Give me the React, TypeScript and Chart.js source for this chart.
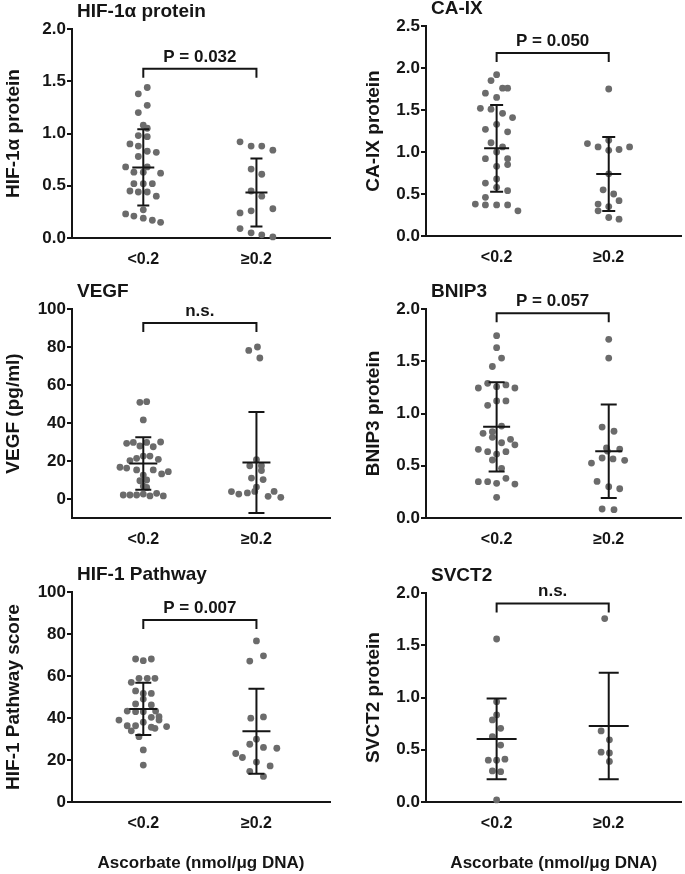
import React, { useEffect, useRef } from "react";
import { Chart, registerables } from "chart.js";
Chart.register(...registerables);

const FONT = 'Arial, "Liberation Sans", sans-serif';
const CATEGORIES = ["<0.2", "\u22650.2"];
const X_AXIS_TITLE = "Ascorbate (nmol/\u03bcg DNA)";

// ---------- HIF-1α protein ----------
const HIF1A_LOW_VALUES = [1.44, 1.38, 1.27, 1.2, 1.08, 1.05, 0.98, 0.97, 0.9, 0.88, 0.83, 0.82, 0.78, 0.68, 0.68, 0.63, 0.63, 0.62, 0.52, 0.52, 0.52, 0.45, 0.44, 0.44, 0.4, 0.27, 0.23, 0.21, 0.19, 0.17, 0.15];
const HIF1A_LOW_JITTER = [0.035, -0.044, 0.035, -0.044, 0, 0.035, -0.044, 0.035, -0.118, -0.044, 0.035, 0.115, -0.044, -0.156, 0.035, -0.083, 0, 0.153, -0.083, 0, 0.08, -0.118, -0.044, 0.035, 0.115, 0, -0.156, -0.083, 0, 0.08, 0.153];
const HIF1A_HIGH_VALUES = [0.92, 0.88, 0.88, 0.84, 0.66, 0.61, 0.45, 0.4, 0.24, 0.26, 0.28, 0.09, 0.05, 0.03, 0.01];
const HIF1A_HIGH_JITTER = [-0.145, -0.047, 0.047, 0.145, -0.047, 0.047, -0.047, 0.047, -0.145, -0.047, 0.145, -0.145, -0.047, 0.047, 0.145];
const HIF1A_MEAN = [0.675, 0.436];
const HIF1A_SD = [0.365, 0.325];

// ---------- CA-IX ----------
const CAIX_LOW_VALUES = [1.92, 1.85, 1.76, 1.76, 1.7, 1.65, 1.52, 1.51, 1.46, 1.41, 1.33, 1.27, 1.24, 1.11, 1.06, 1.0, 0.92, 0.92, 0.83, 0.85, 0.68, 0.63, 0.58, 0.54, 0.46, 0.38, 0.37, 0.37, 0.37, 0.3];
const CAIX_LOW_JITTER = [0, -0.05, 0.053, 0.098, -0.1, 0, -0.145, -0.05, 0.053, 0.142, 0, -0.1, 0.098, -0.05, 0.053, 0, -0.1, 0.098, 0, 0.098, 0, -0.1, 0, 0.098, -0.1, -0.19, -0.1, 0, 0.098, 0.19];
const CAIX_HIGH_VALUES = [1.75, 1.1, 1.06, 1.14, 1.02, 1.03, 1.06, 0.74, 0.55, 0.5, 0.38, 0.35, 0.42, 0.3, 0.22, 0.2];
const CAIX_HIGH_JITTER = [0, -0.19, -0.095, 0, 0, 0.092, 0.186, 0, -0.05, 0.044, -0.095, 0, 0.092, -0.095, 0, 0.092];
const CAIX_MEAN = [1.044, 0.738];
const CAIX_SD = [0.516, 0.441];

// ---------- VEGF ----------
const VEGF_LOW_VALUES = [50.9, 51.2, 41.6, 29.3, 29.8, 29.8, 30, 27.9, 27.5, 21.4, 22.6, 22.6, 20.9, 20.2, 16.7, 16.3, 15.3, 15.3, 13.2, 14.4, 12.6, 9.6, 10, 6.8, 6.1, 2.1, 2.1, 2.1, 2.6, 1.6, 3, 1.6];
const VEGF_LOW_JITTER = [-0.03, 0.03, 0, -0.147, -0.088, 0.03, 0.153, -0.03, 0.088, -0.059, 0, 0.059, 0.133, -0.118, -0.206, -0.147, -0.059, 0.088, 0.162, 0.221, 0, -0.03, 0.03, 0, 0.03, -0.177, -0.118, -0.059, 0, 0.059, 0.118, 0.177];
const VEGF_HIGH_VALUES = [78.2, 80, 74.2, 20.7, 17.5, 17.5, 15, 11, 10.2, 6.3, 3.9, 2.6, 3.2, 4, 1.4, 4, 0.9];
const VEGF_HIGH_JITTER = [-0.068, 0.009, 0.03, 0, -0.059, 0.044, 0.044, -0.044, 0.059, 0, -0.221, -0.156, -0.08, -0.015, 0.103, 0.156, 0.215];
const VEGF_MEAN = [18.7, 19.2];
const VEGF_SD = [13.8, 26.6];

// ---------- BNIP3 ----------
const BNIP3_LOW_VALUES = [1.745, 1.63, 1.53, 1.45, 1.244, 1.289, 1.257, 1.273, 1.244, 1.078, 1.12, 1.12, 0.88, 0.81, 0.826, 0.772, 0.72, 0.753, 0.7, 0.657, 0.635, 0.612, 0.635, 0.555, 0.475, 0.348, 0.348, 0.332, 0.38, 0.325, 0.198];
const BNIP3_LOW_JITTER = [0, 0, 0.044, -0.038, -0.163, -0.08, 0, 0.083, 0.163, -0.08, 0, 0.083, 0.044, -0.121, -0.038, -0.038, 0.044, 0.124, 0.163, -0.163, -0.08, 0, 0.083, -0.038, 0.044, -0.163, -0.08, 0, 0.083, 0.163, 0];
const BNIP3_HIGH_VALUES = [1.71, 1.53, 0.87, 0.83, 0.67, 0.66, 0.64, 0.526, 0.574, 0.565, 0.552, 0.35, 0.3, 0.28, 0.086, 0.08];
const BNIP3_HIGH_JITTER = [0, 0, -0.059, 0.047, -0.02, 0.098, -0.012, -0.154, -0.059, 0.038, 0.142, -0.104, 0, 0.098, -0.059, 0.047];
const BNIP3_MEAN = [0.873, 0.638];
const BNIP3_SD = [0.427, 0.447];

// ---------- HIF-1 Pathway ----------
const PATHWAY_LOW_VALUES = [68.1, 67.3, 68.1, 57, 58.9, 58.9, 58.9, 52.9, 51.7, 51.7, 49, 46.7, 46.2, 43.3, 43, 43, 43.3, 39, 40.3, 40.6, 39, 36.3, 36.3, 38, 35.6, 35.1, 35.9, 33.9, 31.1, 24.8, 17.6];
const PATHWAY_LOW_JITTER = [-0.068, 0, 0.071, -0.106, -0.038, 0.035, 0.103, -0.068, 0, 0.071, 0, -0.068, 0.071, -0.142, -0.068, 0, 0.109, -0.215, 0.071, 0.139, 0.139, -0.142, -0.068, 0, 0.071, 0.103, 0.206, -0.106, -0.038, 0, 0];
const PATHWAY_HIGH_VALUES = [76.7, 69.6, 67.1, 39.9, 40.5, 29.9, 27.5, 26, 25.6, 23.1, 21.2, 19, 17.2, 14.6, 12.2];
const PATHWAY_HIGH_JITTER = [0, 0.062, -0.059, -0.05, 0.062, 0, -0.059, 0.062, 0.18, -0.183, -0.124, 0, 0.121, -0.059, 0.062];
const PATHWAY_MEAN = [44.3, 33.7];
const PATHWAY_SD = [12.45, 20.2];

// ---------- SVCT2 ----------
const SVCT2_LOW_VALUES = [1.56, 0.96, 0.833, 0.785, 0.705, 0.625, 0.545, 0.4, 0.4, 0.41, 0.297, 0.29, 0.02];
const SVCT2_LOW_JITTER = [0, 0, 0, -0.038, 0.036, -0.038, 0.036, -0.074, 0, 0.074, -0.038, 0.036, 0];
const SVCT2_HIGH_VALUES = [1.755, 0.68, 0.595, 0.477, 0.47, 0.388];
const SVCT2_HIGH_JITTER = [-0.036, -0.068, 0.006, -0.068, 0.006, 0.006];
const SVCT2_MEAN = [0.604, 0.728];
const SVCT2_SD = [0.387, 0.51];

const TITLES = ["HIF-1\u03b1 protein", "CA-IX", "VEGF", "BNIP3", "HIF-1 Pathway", "SVCT2"];
const Y_TITLES = ["HIF-1\u03b1 protein", "CA-IX protein", "VEGF (pg/ml)", "BNIP3 protein", "HIF-1 Pathway score", "SVCT2 protein"];
const P_LABELS = ["P = 0.032", "P = 0.050", "n.s.", "P = 0.057", "P = 0.007", "n.s."];
const BRACKET_Y = [1.62, 2.18, 92.6, 1.96, 86.7, 1.9];
const Y_MIN = [0, 0, -10, 0, 0, 0];
const Y_MAX = [2, 2.5, 100, 2, 100, 2];
const Y_STEP = [0.5, 0.5, 20, 0.5, 20, 0.5];
const Y_DECIMALS = [1, 1, 0, 1, 0, 1];

const DATA = [
  { groups: [[HIF1A_LOW_VALUES, HIF1A_LOW_JITTER], [HIF1A_HIGH_VALUES, HIF1A_HIGH_JITTER]], mean: HIF1A_MEAN, sd: HIF1A_SD },
  { groups: [[CAIX_LOW_VALUES, CAIX_LOW_JITTER], [CAIX_HIGH_VALUES, CAIX_HIGH_JITTER]], mean: CAIX_MEAN, sd: CAIX_SD },
  { groups: [[VEGF_LOW_VALUES, VEGF_LOW_JITTER], [VEGF_HIGH_VALUES, VEGF_HIGH_JITTER]], mean: VEGF_MEAN, sd: VEGF_SD },
  { groups: [[BNIP3_LOW_VALUES, BNIP3_LOW_JITTER], [BNIP3_HIGH_VALUES, BNIP3_HIGH_JITTER]], mean: BNIP3_MEAN, sd: BNIP3_SD },
  { groups: [[PATHWAY_LOW_VALUES, PATHWAY_LOW_JITTER], [PATHWAY_HIGH_VALUES, PATHWAY_HIGH_JITTER]], mean: PATHWAY_MEAN, sd: PATHWAY_SD },
  { groups: [[SVCT2_LOW_VALUES, SVCT2_LOW_JITTER], [SVCT2_HIGH_VALUES, SVCT2_HIGH_JITTER]], mean: SVCT2_MEAN, sd: SVCT2_SD },
];

// layout (pixels) for each panel's canvas
const LAYOUT = [
  { left: 0, top: 0, w: 340, h: 280, areaTop: 29, areaBottom: 238, axisW: 72, padRight: 10, yTitlePad: 2, meanHalf: 11, capHalf: 6 },
  { left: 340, top: 0, w: 345, h: 280, areaTop: 26, areaBottom: 236, axisW: 86, padRight: 2, yTitlePad: 22, meanHalf: 12.5, capHalf: 6.5 },
  { left: 0, top: 280, w: 340, h: 275, areaTop: 29, areaBottom: 238, axisW: 72, padRight: 10, yTitlePad: 2, meanHalf: 14, capHalf: 8 },
  { left: 340, top: 280, w: 345, h: 275, areaTop: 29, areaBottom: 238, axisW: 86, padRight: 2, yTitlePad: 22, meanHalf: 13.5, capHalf: 8 },
  { left: 0, top: 555, w: 340, h: 319, areaTop: 37, areaBottom: 247, axisW: 72, padRight: 10, yTitlePad: 2, meanHalf: 14, capHalf: 8 },
  { left: 340, top: 555, w: 345, h: 319, areaTop: 38, areaBottom: 247, axisW: 86, padRight: 2, yTitlePad: 22, meanHalf: 20, capHalf: 10 },
];

const INK = "#151515";
const DOT = "#6b6b6b";

function Panel({ idx }: { idx: number }) {
  const ref = useRef<HTMLCanvasElement | null>(null);
  const L = LAYOUT[idx];
  useEffect(() => {
    if (!ref.current) return;
    const d = DATA[idx];
    const showXTitle = idx >= 4;
    const overlay = {
      id: "overlay" + idx,
      afterDatasetsDraw(chart: any) {
        const { ctx, chartArea } = chart;
        const x = chart.scales.x;
        const y = chart.scales.y;
        ctx.save();
        ctx.strokeStyle = INK;
        ctx.lineWidth = 2;
        ctx.lineCap = "butt";
        d.mean.forEach((m: number, i: number) => {
          const px = x.getPixelForValue(i);
          const pm = y.getPixelForValue(m);
          const ph = y.getPixelForValue(m + d.sd[i]);
          const pl = y.getPixelForValue(m - d.sd[i]);
          ctx.beginPath();
          ctx.moveTo(px, ph);
          ctx.lineTo(px, pl);
          ctx.moveTo(px - L.capHalf, ph);
          ctx.lineTo(px + L.capHalf, ph);
          ctx.moveTo(px - L.capHalf, pl);
          ctx.lineTo(px + L.capHalf, pl);
          ctx.moveTo(px - L.meanHalf, pm);
          ctx.lineTo(px + L.meanHalf, pm);
          ctx.stroke();
        });
        const bx0 = x.getPixelForValue(0);
        const bx1 = x.getPixelForValue(1);
        const by = y.getPixelForValue(BRACKET_Y[idx]);
        ctx.beginPath();
        ctx.moveTo(bx0, by + 9);
        ctx.lineTo(bx0, by);
        ctx.lineTo(bx1, by);
        ctx.lineTo(bx1, by + 9);
        ctx.stroke();
        ctx.fillStyle = INK;
        ctx.font = `bold 17px ${FONT}`;
        ctx.textAlign = "center";
        ctx.textBaseline = "alphabetic";
        ctx.fillText(P_LABELS[idx], (bx0 + bx1) / 2, by - 7);
        ctx.font = `bold 19px ${FONT}`;
        ctx.textAlign = "left";
        ctx.textBaseline = "middle";
        ctx.fillText(TITLES[idx], chartArea.left + 5, chartArea.top - 17);
        ctx.restore();
      },
    };
    const chart = new Chart(ref.current, {
      type: "scatter",
      data: {
        datasets: d.groups.map((g: any, gi: number) => ({
          data: g[0].map((v: number, k: number) => ({ x: gi + g[1][k], y: v })),
          backgroundColor: DOT,
          borderWidth: 0,
          pointRadius: 3.4,
          pointHoverRadius: 3.4,
          clip: false as any,
        })),
      },
      options: {
        responsive: false,
        animation: false,
        events: [],
        layout: { padding: { top: L.areaTop, left: 0, right: L.padRight, bottom: 0 } },
        plugins: { legend: { display: false }, tooltip: { enabled: false }, title: { display: false } },
        scales: {
          x: {
            type: "linear",
            min: -0.63,
            max: 1.65,
            afterBuildTicks: (s: any) => {
              s.ticks = [{ value: 0 }, { value: 1 }];
            },
            afterFit: (s: any) => {
              s.height = L.h - L.areaBottom;
            },
            grid: { display: false, drawTicks: false },
            border: { display: true, color: INK, width: 2 },
            ticks: {
              padding: 12,
              color: INK,
              font: { family: FONT, size: 16, weight: "bold" },
              maxRotation: 0,
              callback: (v: any) => CATEGORIES[Math.round(Number(v))] ?? "",
            },
            title: {
              display: showXTitle,
              text: X_AXIS_TITLE,
              color: INK,
              font: { family: FONT, size: 17, weight: "bold" },
              padding: { top: 0, bottom: 0 },
            },
          },
          y: {
            type: "linear",
            min: Y_MIN[idx],
            max: Y_MAX[idx],
            afterBuildTicks: (s: any) => {
              s.ticks = s.ticks.filter((t: any) => t.value >= 0);
            },
            afterFit: (s: any) => {
              s.width = L.axisW;
            },
            grid: { display: true, drawOnChartArea: false, drawTicks: true, tickLength: 5, color: INK, lineWidth: 2 },
            border: { display: true, color: INK, width: 2 },
            ticks: {
              stepSize: Y_STEP[idx],
              padding: 1,
              color: INK,
              font: { family: FONT, size: 17, weight: "bold" },
              callback: (v: any) => Number(v).toFixed(Y_DECIMALS[idx]),
            },
            title: {
              display: true,
              text: Y_TITLES[idx],
              color: INK,
              font: { family: FONT, size: 19, weight: "bold" },
              padding: { top: L.yTitlePad, bottom: 0 },
            },
          },
        },
      },
      plugins: [overlay],
    } as any);
    return () => chart.destroy();
  }, [idx]);
  return (
    <canvas
      ref={ref}
      width={L.w}
      height={L.h}
      style={{ position: "absolute", left: L.left, top: L.top, width: L.w, height: L.h }}
    />
  );
}

export default function App() {
  return (
    <div style={{ position: "absolute", left: 0, top: 0, width: 685, height: 874, background: "#fff" }}>
      {[0, 1, 2, 3, 4, 5].map((i) => (
        <Panel key={i} idx={i} />
      ))}
    </div>
  );
}
